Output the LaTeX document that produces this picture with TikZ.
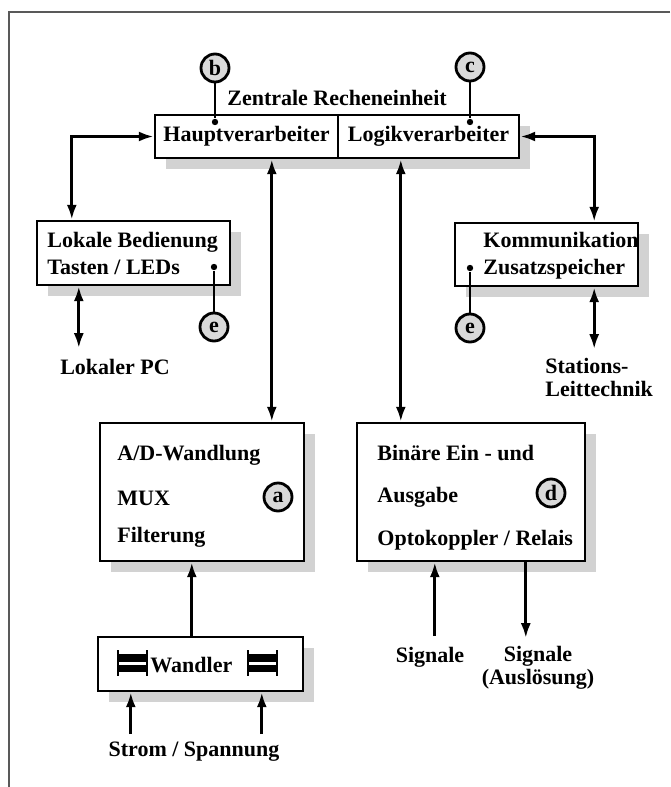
\documentclass[tikz,border=0pt]{standalone}
\usepackage{fontspec}
\setmainfont{Liberation Serif}
\usetikzlibrary{arrows.meta,shadows,calc}
\tikzset{
  box/.style={draw, line width=1.2pt, fill=white, inner sep=0pt, font=\fontsize{11}{13}\selectfont\bfseries,
    drop shadow={shadow xshift=5.5pt, shadow yshift=-5.5pt, fill=gray!35, opacity=1}},
  txt/.style={font=\fontsize{11}{11.5}\selectfont\bfseries, inner sep=0pt},
  marker/.style={circle, draw, line width=1.4pt, fill=gray!30, minimum size=14pt, inner sep=0pt,
    font=\fontsize{11}{13}\selectfont\bfseries},
  dot/.style={circle, fill, inner sep=0pt, minimum size=3.2pt},
  conn/.style={line width=1.6pt, -{Latex[length=7.5pt,width=5pt]}},
  biconn/.style={line width=1.6pt, {Latex[length=7.5pt,width=5pt]}-{Latex[length=7.5pt,width=5pt]}},
  tag/.style={line width=0.6pt}
}
\begin{document}
\begin{tikzpicture}[x=0.5pt,y=-0.5pt]
  \useasboundingbox (0,0) rectangle (670,787);
  \draw[line width=0.6pt, gray!70!black] (670,12) -- (9,12) -- (9,787);

  \node[txt] (zre) at (337,98) {Zentrale Recheneinheit};
  \node[box, minimum width=91.5pt, minimum height=21.5pt] (haupt) at (246.5,136.5) {Hauptverarbeiter};
  \node[box, minimum width=90.5pt, minimum height=21.5pt] (logik) at (428.5,136.5) {Logikverarbeiter};

  \node[box, minimum width=96.5pt, minimum height=32pt] (lokale) at (133.5,253) {};
  \node[txt, anchor=west] (lok1) at (47,242) {Lokale Bedienung};
  \node[txt, anchor=west] (lok2) at (47,267) {Tasten / LEDs};

  \node[box, minimum width=91.5pt, minimum height=31.5pt] (komm) at (546.5,254.5) {};
  \node[txt, anchor=west] (kom1) at (483,240) {Kommunikation};
  \node[txt, anchor=west] (kom2) at (483,269) {Zusatzspeicher};

  \node[box, minimum width=102pt, minimum height=69pt] (ad) at (202,492) {};
  \node[txt, anchor=west] (ad1) at (117,455) {A/D-Wandlung};
  \node[txt, anchor=west] (ad2) at (117,498) {MUX};
  \node[txt, anchor=west] (ad3) at (117,537) {Filterung};

  \node[box, minimum width=114pt, minimum height=69pt] (bin) at (471,492) {};
  \node[txt, anchor=west] (bin1) at (377,453) {Binäre Ein - und};
  \node[txt, anchor=west] (bin2) at (377,497) {Ausgabe};
  \node[txt, anchor=west] (bin3) at (377,540) {Optokoppler / Relais};

  \node[box, minimum width=102.5pt, minimum height=27pt] (wandler) at (200.5,664) {};
  \node[txt, anchor=west] (wtxt) at (150,665) {Wandler};
  \foreach \sx in {118,248} {
    \fill (\sx,654) rectangle ++(29,8);
    \fill (\sx,665) rectangle ++(29,7);
    \draw[line width=0.6pt] (\sx,650) -- (\sx,676) (\sx+29,650) -- (\sx+29,676);
  }

  \node[marker] (b) at (215,68) {b};
  \node[marker] (c) at (470,67) {c};
  \node[marker] (a) at (278,497) {a};
  \node[marker] (d) at (551,493) {d};
  \node[marker] (e1) at (214,327) {e};
  \node[marker] (e2) at (470,328) {e};
  \node[dot] (db) at (215,122) {};
  \node[dot] (dc) at (470,122) {};
  \node[dot] (de1) at (214,267) {};
  \node[dot] (de2) at (470,268) {};
  \draw[tag] (b) -- (db);
  \draw[tag] (c) -- (dc);
  \draw[tag] (e1) -- (de1);
  \draw[tag] (e2) -- (de2);

  \node[txt] (pc) at (115,367) {Lokaler PC};
  \node[txt, anchor=west, align=left] (slt) at (545,377) {Stations-\\Leittechnik};
  \node[txt] (sig1) at (430,657) {Signale};
  \node[txt, align=center] (sig2) at (538,668) {Signale\\(Auslösung)};
  \node[txt] (strom) at (194,752) {Strom / Spannung};

  \draw[biconn] (haupt.west) -| ($(lokale.north west)+(36,0)$);
  \draw[biconn] (logik.east) -| ($(komm.north east)+(-45,0)$);
  \draw[biconn] ($(haupt.south west)+(118,0)$) -- ($(ad.north west)+(173,0)$);
  \draw[biconn] ($(logik.south west)+(64,0)$) -- ($(bin.north west)+(45,0)$);
  \draw[biconn] ($(lokale.south west)+(43,0)$) -- ++(0,62);
  \draw[biconn] ($(komm.south east)+(-45,0)$) -- ++(0,62);
  \draw[conn] ($(wandler.north west)+(95,0)$) -- ($(ad.south west)+(93,0)$);
  \draw[conn] ($(wandler.south west)+(34,42)$) -- ($(wandler.south west)+(34,0)$);
  \draw[conn] ($(wandler.south west)+(165,42)$) -- ($(wandler.south west)+(165,0)$);
  \draw[conn] ($(bin.south west)+(79,74)$) -- ($(bin.south west)+(79,0)$);
  \draw[conn] ($(bin.south west)+(170,0)$) -- ++(0,76);
\end{tikzpicture}
\end{document}
